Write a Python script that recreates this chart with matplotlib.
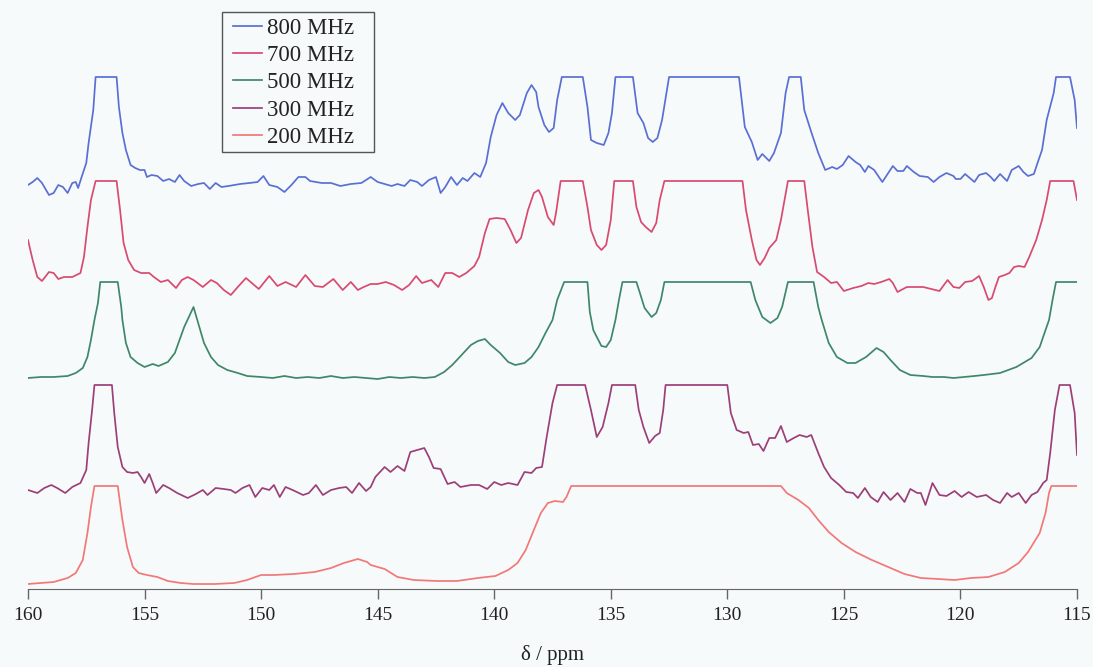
import matplotlib.pyplot as plt
from matplotlib.patches import Rectangle
import numpy as np

# ---- data (ppm, intensity; 110 = clipped top) ----
labels = ['800 MHz', '700 MHz', '500 MHz', '300 MHz', '200 MHz']

ppm_800 = [160.0, 159.8, 159.6, 159.4, 159.1, 158.9, 158.7, 158.5, 158.3, 158.1,
           157.95, 157.85, 157.7, 157.5, 157.4, 157.2, 157.1, 156.2, 156.1, 155.95,
           155.8, 155.6, 155.4, 155.2, 155.0, 154.9, 154.7, 154.45, 154.2, 153.95,
           153.7, 153.5, 153.3, 153.0, 152.7, 152.45, 152.2, 151.95, 151.7, 151.4,
           151.15, 150.9, 150.5, 150.15, 149.9, 149.65, 149.3, 149.0, 148.7, 148.4,
           148.1, 147.9, 147.4, 147.0, 146.6, 146.15, 145.7, 145.3, 145.0, 144.7,
           144.4, 144.15, 143.85, 143.6, 143.3, 143.1, 142.8, 142.5, 142.3, 142.1,
           141.85, 141.6, 141.35, 141.15, 140.85, 140.6, 140.35, 140.15, 139.9, 139.65,
           139.4, 139.1, 138.9, 138.6, 138.4, 138.2, 138.1, 137.85, 137.65, 137.45,
           137.3, 137.1, 136.2, 136.0, 135.85, 135.6, 135.3, 135.1, 134.95, 134.8,
           134.05, 133.85, 133.6, 133.4, 133.2, 133.0, 132.8, 132.5, 129.5, 129.25,
           128.95, 128.7, 128.5, 128.2, 128.0, 127.7, 127.5, 127.35, 126.85, 126.7,
           126.4, 126.1, 125.8, 125.5, 125.3, 125.05, 124.8, 124.5, 124.3, 124.1,
           123.95, 123.7, 123.5, 123.35, 123.1, 122.9, 122.7, 122.45, 122.3, 122.0,
           121.75, 121.4, 121.15, 120.9, 120.6, 120.3, 120.2, 120.0, 119.8, 119.6,
           119.4, 119.2, 118.9, 118.7, 118.55, 118.3, 118.0, 117.8, 117.5, 117.3,
           117.1, 116.85, 116.65, 116.5, 116.3, 116.0, 115.9, 115.3, 115.1, 115.0]
int_800 = [2, 5, 9, 4, -8, -6, 2, 0, -6, 4,
           5, -1, 10, 24, 44, 77, 110, 110, 80, 54,
           37, 22, 19, 17, 17, 10, 12, 11, 6, 8,
           5, 12, 6, 1, 3, 4, -2, 4, 0, 1,
           2, 3, 4, 5, 11, 2, 0, -5, 2, 10,
           10, 6, 4, 4, 1, 3, 4, 10, 5, 3,
           1, 3, 1, 7, 5, 1, 7, 10, -6, 0,
           10, 2, 9, 6, 14, 10, 24, 50, 72, 84,
           74, 67, 72, 94, 102, 95, 80, 62, 55, 59,
           87, 110, 110, 80, 47, 44, 42, 54, 74, 110,
           110, 74, 64, 49, 45, 49, 67, 110, 110, 60,
           45, 27, 33, 26, 34, 54, 94, 110, 110, 77,
           55, 34, 17, 20, 18, 22, 31, 25, 22, 15,
           21, 17, 10, 5, 14, 21, 16, 16, 21, 15,
           11, 10, 5, 10, 14, 11, 8, 8, 13, 9,
           5, 12, 14, 10, 6, 13, 6, 17, 21, 15,
           11, 13, 27, 37, 67, 94, 110, 110, 87, 59]

ppm_700 = [160.0, 159.8, 159.6, 159.4, 159.1, 158.9, 158.7, 158.45, 158.1, 157.75,
           157.6, 157.45, 157.3, 157.1, 156.2, 156.05, 155.9, 155.7, 155.45, 155.15,
           154.8, 154.6, 154.3, 154.0, 153.65, 153.4, 153.15, 152.9, 152.5, 152.15,
           151.9, 151.6, 151.3, 151.0, 150.65, 150.3, 150.1, 149.65, 149.3, 148.95,
           148.5, 148.1, 147.7, 147.35, 146.9, 146.5, 146.15, 145.85, 145.6, 145.3,
           145.0, 144.65, 144.3, 143.95, 143.65, 143.35, 143.1, 142.7, 142.4, 142.1,
           141.8, 141.5, 141.2, 140.85, 140.65, 140.4, 140.2, 139.9, 139.55, 139.3,
           139.05, 138.85, 138.55, 138.3, 138.1, 137.95, 137.7, 137.45, 137.35, 137.15,
           136.2, 136.0, 135.85, 135.6, 135.4, 135.2, 135.0, 134.85, 134.05, 133.9,
           133.7, 133.5, 133.25, 133.05, 132.9, 132.7, 129.35, 129.2, 128.95, 128.75,
           128.6, 128.4, 128.2, 127.9, 127.7, 127.4, 126.7, 126.55, 126.35, 126.15,
           125.85, 125.55, 125.3, 125.0, 124.6, 124.25, 123.95, 123.7, 123.4, 123.05,
           122.9, 122.7, 122.3, 122.0, 121.6, 121.25, 120.9, 120.55, 120.3, 120.05,
           119.8, 119.5, 119.2, 119.0, 118.8, 118.65, 118.5, 118.35, 118.1, 117.9,
           117.7, 117.5, 117.25, 117.05, 116.75, 116.5, 116.3, 116.15, 115.15, 115.0]
int_700 = [51, 31, 14, 10, 19, 18, 12, 14, 14, 18,
           34, 64, 91, 110, 110, 81, 48, 31, 21, 18,
           18, 14, 9, 11, 3, 11, 14, 11, 4, 11,
           8, 1, -4, 4, 13, 6, 2, 15, 5, 9,
           4, 16, 5, 4, 12, 1, 9, 1, 4, 7,
           7, 9, 6, 1, 6, 15, 8, 11, 4, 18,
           18, 14, 18, 25, 34, 58, 72, 73, 72, 61,
           48, 53, 81, 98, 101, 94, 74, 66, 78, 110,
           110, 84, 61, 46, 41, 46, 71, 110, 110, 84,
           69, 64, 59, 68, 91, 110, 110, 81, 51, 31,
           26, 33, 43, 51, 71, 110, 110, 81, 44, 19,
           14, 8, 9, 0, 3, 5, 8, 7, 9, 12,
           8, -1, 4, 4, 4, 2, 0, 11, 4, 3,
           9, 10, 15, 4, -9, -7, 4, 14, 16, 18,
           24, 25, 24, 34, 51, 71, 91, 110, 110, 91]

ppm_500 = [160.0, 159.45, 158.9, 158.3, 157.95, 157.65, 157.45, 157.3, 157.15, 157.0,
           156.9, 156.15, 156.0, 155.95, 155.8, 155.6, 155.3, 155.0, 154.65, 154.4,
           154.0, 153.7, 153.5, 153.3, 152.9, 152.7, 152.45, 152.15, 151.85, 151.45,
           151.0, 150.6, 150.0, 149.5, 149.0, 148.5, 148.0, 147.5, 147.0, 146.5,
           146.0, 145.5, 145.0, 144.5, 144.0, 143.5, 143.0, 142.55, 142.15, 141.8,
           141.4, 141.0, 140.7, 140.4, 140.15, 139.75, 139.4, 139.1, 138.7, 138.4,
           138.1, 137.8, 137.5, 137.3, 137.0, 136.0, 135.9, 135.75, 135.6, 135.4,
           135.2, 135.0, 134.8, 134.65, 134.5, 133.9, 133.75, 133.55, 133.25, 133.05,
           132.85, 132.7, 129.0, 128.8, 128.5, 128.15, 127.85, 127.65, 127.4, 126.3,
           126.1, 125.95, 125.65, 125.3, 124.85, 124.5, 124.05, 123.6, 123.3, 123.0,
           122.6, 122.15, 121.6, 121.2, 120.7, 120.3, 119.85, 119.4, 119.0, 118.3,
           117.6, 116.95, 116.6, 116.35, 116.2, 116.05, 115.9, 115.0]
int_500 = [14, 15, 15, 16, 19, 24, 35, 52, 72, 89,
           110, 110, 85, 72, 49, 35, 29, 25, 28, 26,
           30, 39, 52, 65, 85, 69, 49, 35, 27, 22,
           19, 16, 15, 14, 16, 14, 15, 14, 16, 14,
           15, 14, 13, 15, 14, 15, 14, 15, 20, 27,
           37, 47, 51, 53, 47, 39, 30, 27, 29, 35,
           45, 59, 72, 92, 110, 110, 80, 62, 55, 46,
           45, 52, 72, 92, 110, 110, 99, 84, 75, 79,
           92, 110, 110, 92, 75, 69, 74, 85, 110, 110,
           85, 72, 49, 35, 29, 29, 35, 44, 40, 32,
           22, 17, 16, 15, 15, 14, 15, 16, 17, 19,
           25, 34, 45, 62, 72, 92, 110, 110]

ppm_300 = [160.0, 159.6, 159.3, 159.0, 158.75, 158.4, 158.1, 157.75, 157.5, 157.4,
           157.25, 157.15, 156.4, 156.3, 156.15, 155.95, 155.75, 155.5, 155.3, 155.15,
           155.0, 154.8, 154.65, 154.5, 154.2, 153.95, 153.6, 153.15, 152.8, 152.5,
           152.3, 151.95, 151.6, 151.3, 151.1, 150.8, 150.5, 150.25, 149.95, 149.65,
           149.45, 149.2, 148.95, 148.65, 148.2, 147.95, 147.65, 147.35, 147.0, 146.65,
           146.35, 146.1, 145.8, 145.5, 145.3, 145.1, 144.7, 144.45, 144.15, 143.85,
           143.6, 143.3, 143.0, 142.8, 142.6, 142.3, 142.0, 141.7, 141.45, 141.0,
           140.65, 140.3, 140.0, 139.7, 139.4, 139.0, 138.7, 138.4, 138.2, 137.95,
           137.75, 137.5, 137.3, 136.1, 135.85, 135.6, 135.35, 135.1, 134.95, 133.95,
           133.8, 133.6, 133.35, 133.1, 132.9, 132.75, 132.65, 130.0, 129.85, 129.6,
           129.3, 129.1, 128.9, 128.65, 128.45, 128.2, 127.95, 127.7, 127.45, 127.15,
           126.9, 126.6, 126.4, 126.1, 125.85, 125.55, 125.2, 124.9, 124.6, 124.4,
           124.1, 123.85, 123.55, 123.3, 123.0, 122.7, 122.4, 122.15, 121.85, 121.7,
           121.5, 121.2, 120.9, 120.6, 120.25, 119.95, 119.65, 119.3, 118.9, 118.6,
           118.3, 118.0, 117.8, 117.5, 117.2, 116.95, 116.7, 116.45, 116.3, 116.15,
           115.95, 115.75, 115.3, 115.1, 115.0]
int_300 = [5, 2, 7, 10, 7, 2, 8, 12, 25, 52,
           85, 110, 110, 82, 48, 28, 23, 22, 23, 18,
           12, 21, 12, 2, 10, 7, 2, -3, 1, 5,
           0, 7, 6, 5, 2, 7, 10, -2, 7, 5,
           10, -2, 8, 5, 0, 2, 10, 0, 5, 7,
           8, 2, 12, 4, 8, 18, 28, 23, 29, 24,
           43, 45, 47, 38, 27, 26, 11, 13, 8, 10,
           10, 6, 13, 10, 12, 10, 23, 22, 27, 28,
           58, 92, 110, 110, 85, 58, 68, 92, 110, 110,
           85, 68, 52, 59, 62, 85, 110, 110, 82, 65,
           62, 63, 50, 51, 44, 57, 57, 69, 53, 57,
           60, 58, 60, 42, 28, 17, 10, 3, 2, -3,
           7, -2, -7, 3, -5, 2, -7, 6, 2, 2,
           -10, 12, 0, -1, 4, -2, 3, -2, 0, -5,
           -8, 2, -2, 2, -8, 0, 3, 12, 15, 42,
           85, 110, 110, 82, 40]

ppm_200 = [160.0, 159.45, 158.9, 158.3, 157.95, 157.65, 157.45, 157.3, 157.15, 156.15,
           155.95, 155.75, 155.5, 155.25, 154.9, 154.45, 154.0, 153.45, 152.9, 152.0,
           151.15, 150.6, 150.0, 149.45, 148.6, 147.7, 147.0, 146.45, 145.85, 145.45,
           145.3, 144.7, 144.15, 143.45, 142.45, 141.6, 140.7, 139.95, 139.4, 139.0,
           138.65, 138.3, 138.0, 137.7, 137.4, 137.05, 136.9, 136.7, 127.7, 127.45,
           126.95, 126.5, 126.1, 125.65, 125.1, 124.5, 123.8, 123.1, 122.4, 121.7,
           120.95, 120.25, 119.55, 118.8, 118.1, 117.5, 117.1, 116.6, 116.35, 116.2,
           116.1, 115.0]
int_200 = [12, 13, 14, 18, 23, 36, 63, 89, 110, 110,
           76, 49, 29, 23, 21, 19, 15, 13, 12, 12,
           13, 16, 21, 21, 22, 24, 28, 33, 37, 34,
           31, 27, 19, 16, 15, 15, 18, 20, 26, 33,
           46, 66, 83, 93, 95, 94, 99, 110, 110, 103,
           96, 88, 76, 64, 53, 44, 36, 29, 22, 18,
           17, 16, 18, 19, 24, 33, 44, 63, 83, 103,
           110, 110]

ppms = [ppm_800, ppm_700, ppm_500, ppm_300, ppm_200]
ints = [int_800, int_700, int_500, int_300, int_200]
offsets = [402, 298, 197, 94, -7]
colors = ['#5a6fd4', '#d84a70', '#3f8769', '#9c3f78', '#f27878']

plt.rcParams['font.family'] = ['Liberation Serif', 'DejaVu Serif']
bg = '#f6fafa'
W, H = 1093, 667

fig = plt.figure(figsize=(W / 100, H / 100), dpi=100, facecolor=bg)
ax = fig.add_axes([28 / W, 78 / H, 1049 / W, 589 / H])
ax.set_facecolor(bg)

for x, y, off, c, lab in zip(ppms, ints, offsets, colors, labels):
    ax.plot(x, np.array(y) + off, color=c, lw=1.25, label=lab,
            solid_joinstyle='round')

ax.set_xlim(160, 115)
ax.set_ylim(0, 589)
ax.set_xticks(np.arange(160, 114, -5))
ax.set_yticks([])
for s in ['left', 'right', 'top']:
    ax.spines[s].set_visible(False)
ax.spines['bottom'].set_color('#666666')
ax.tick_params(axis='x', direction='out', length=7, width=1, color='#666666',
               labelsize=14, pad=6, labelcolor='#222222')
ax.set_xlabel('δ / ppm', fontsize=15, labelpad=15, color='#222222')

# legend entries without frame, square box drawn separately
leg = fig.legend(loc='upper left', bbox_to_anchor=(233 / W, 1 - 18 / H),
                 bbox_transform=fig.transFigure, borderaxespad=0, fontsize=16.5,
                 handlelength=1.25, handletextpad=0.25, labelspacing=0.27,
                 borderpad=0, frameon=False)
for t in leg.get_texts():
    t.set_color('#222222')
fig.patches.append(Rectangle((222 / W, 1 - 152 / H), 152 / W, 140 / H,
                             transform=fig.transFigure, fill=False,
                             edgecolor='#555555', lw=1))

fig.savefig('out.png', dpi=100, facecolor=bg)
